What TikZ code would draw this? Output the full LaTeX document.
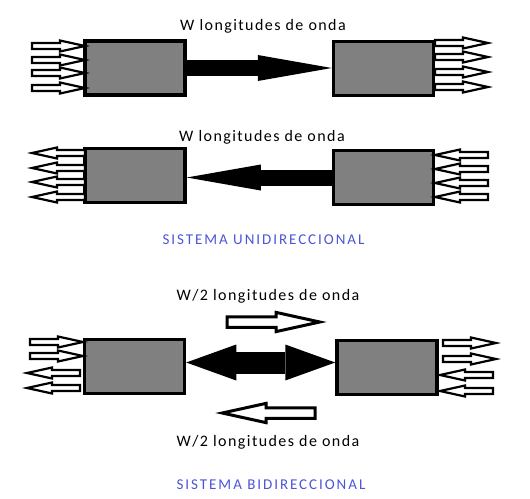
\documentclass[tikz,border=0pt]{standalone}
\usepackage{fontspec}
\setmainfont{Carlito}
\newfontfamily\etiqfont[LetterSpace=9]{Carlito}
\newfontfamily\titfont[LetterSpace=13]{Carlito}
\usetikzlibrary{arrows.meta, positioning, calc}
\definecolor{sisazul}{HTML}{4D55D9}

\begin{document}
\begin{tikzpicture}[
        x=1pt, y=-1pt,
        caja/.style={rectangle, draw=black, fill=gray, line width=3.5pt, minimum width=100pt, minimum height=54pt, inner sep=0pt},
        etiq/.style={font=\etiqfont\fontsize{16}{19}\selectfont, anchor=base, inner sep=0pt},
        titulo/.style={font=\titfont\fontsize{15}{18}\selectfont, text=sisazul, anchor=base, inner sep=0pt},
        haz/.style={line width=16pt, -{Triangle[length=74pt, width=26pt, line width=0pt]}},
        hazdoble/.style={line width=22pt, {Triangle[length=50pt, width=36pt, line width=0pt]}-{Triangle[length=50pt, width=36pt, line width=0pt]}},
        pics/fibra/.style={code={
            \draw[fill=white, line width=#1] (0,-3) -- (28,-3) -- (28,-5.5) -- (53,0) -- (28,5.5) -- (28,3) -- (0,3) -- cycle;
        }},
        pics/fibra/.default=2.2pt
    ]
    \path[use as bounding box, fill=white] (0,0) rectangle (530,498);

    % sistema unidireccional, sentido 1
    \node[caja] (ent1) at (135,68) {};
    \node[caja] (sal1) at (383.5,68.5) {};
    \node[etiq] (lon1) at (263,30) {W longitudes de onda};
    \draw[haz] (ent1.east) -- (ent1.east -| sal1.west);
    \foreach \y in {46,60,73,88} \pic at (32,\y) {fibra};
    \foreach \y in {43,57,72,87} \pic at (435,\y) {fibra};

    % sistema unidireccional, sentido 2
    \node[caja] (ent2) at (135,175.5) {};
    \node[caja] (sal2) at (383.5,177.5) {};
    \node[etiq] (lon2) at (262,141) {W longitudes de onda};
    \draw[haz] (sal2.west) -- (sal2.west -| ent2.east);
    \foreach \y in {153,168,182,197} \pic[xscale=-1] at (85,\y) {fibra};
    \foreach \y in {155,169,183,197} \pic[xscale=-1] at (488,\y) {fibra};
    \node[titulo] (uni) at (263.5,244) {SISTEMA UNIDIRECCIONAL};

    % sistema bidireccional
    \node[caja] (ent3) at (134.5,366.5) {};
    \node[caja] (sal3) at (387,367.5) {};
    \node[etiq] (lon3) at (268,300) {W/2 longitudes de onda};
    \node[etiq] (lon4) at (268,446) {W/2 longitudes de onda};
    \draw[hazdoble] ($(ent3.east)+(0,-4)$) coordinate (m3) -- (m3 -| sal3.west);
    \pic[scale=1.75] at (227,322) {fibra=3pt};
    \pic[scale=1.75, xscale=-1] at (315,413) {fibra=3pt};
    \foreach \y in {342,356} \pic at (30,\y) {fibra};
    \foreach \y in {373,388} \pic[xscale=-1] at (80,\y) {fibra};
    \foreach \y in {343,359} \pic at (443,\y) {fibra};
    \foreach \y in {375,391} \pic[xscale=-1] at (493,\y) {fibra};
    \node[titulo] (bid) at (271,489) {SISTEMA BIDIRECCIONAL};
\end{tikzpicture}
\end{document}
